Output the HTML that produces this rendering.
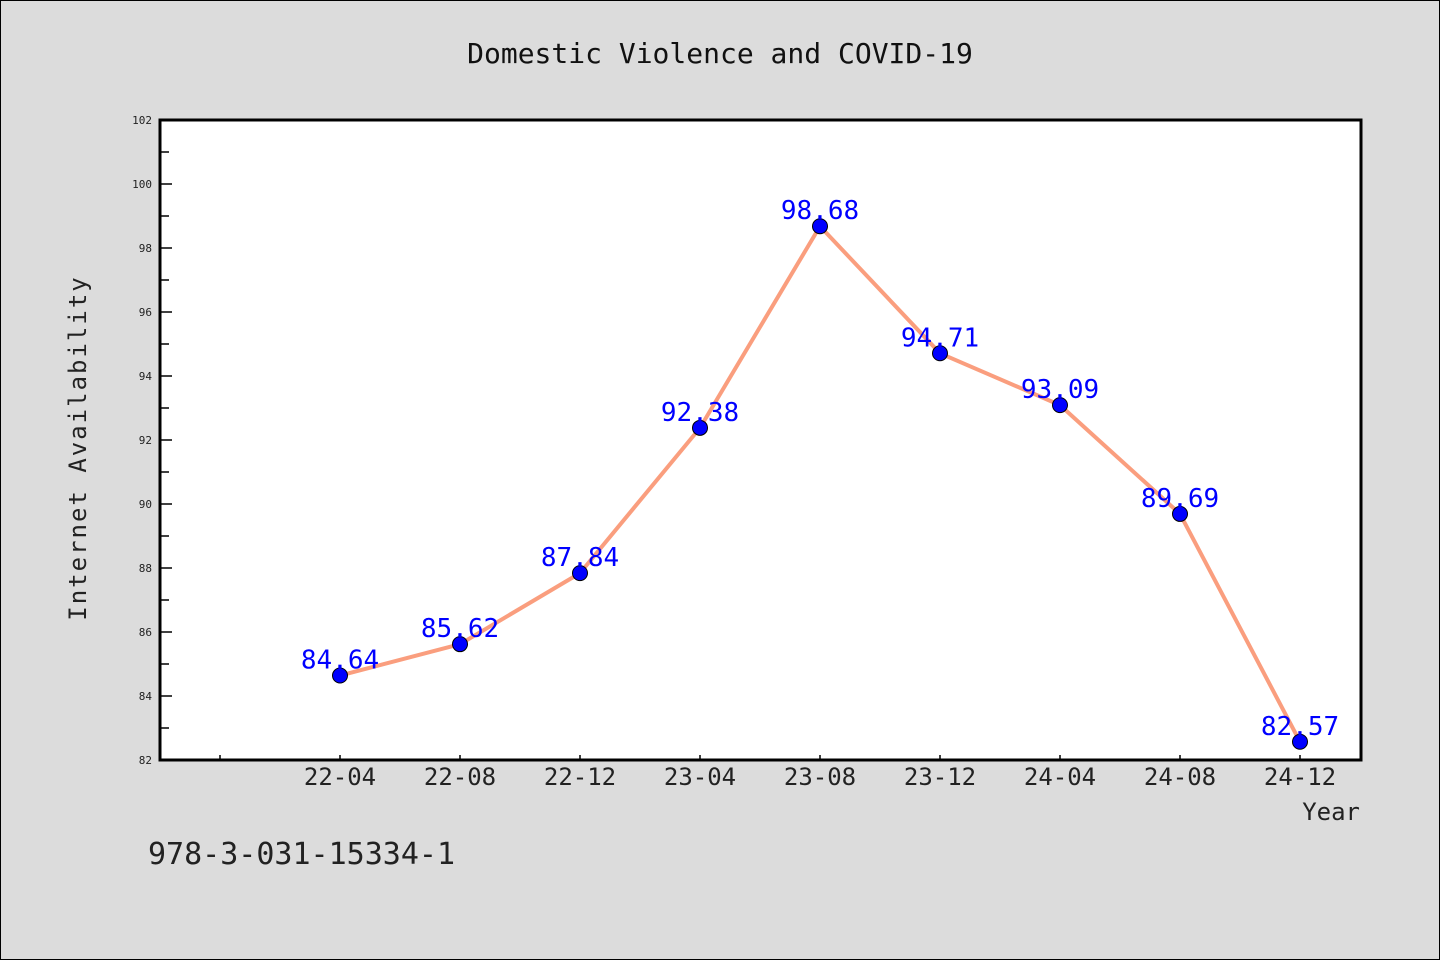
<!DOCTYPE html>
<html><head><meta charset="utf-8"><style>
html,body{margin:0;padding:0;background:#dcdcdc;}
svg{display:block;font-family:"DejaVu Sans Mono","Liberation Mono",monospace;}
</style></head><body>
<svg id="chart" width="1440" height="960" viewBox="0 0 1440 960" xmlns="http://www.w3.org/2000/svg">
<rect x="0.5" y="0.5" width="1439" height="959" fill="#dcdcdc" stroke="#000"/>
<text x="720" y="63" text-anchor="middle" font-size="28" fill="#111">Domestic Violence and COVID-19</text>
<rect x="160" y="120" width="1201" height="640" fill="#fff"/>
<g id="axes"></g>
<g id="series"></g>
<rect x="160" y="120" width="1201" height="640" fill="none" stroke="#000" stroke-width="3"/>
<text transform="translate(86,448) rotate(-90)" text-anchor="middle" font-size="24" fill="#222" letter-spacing="2">Internet Availability</text>
<text x="1360" y="820" text-anchor="end" font-size="24" fill="#222">Year</text>
<text x="148" y="864" font-size="30" fill="#222">978-3-031-15334-1</text>
</svg>
<script>
const categories = ["22-04","22-08","22-12","23-04","23-08","23-12","24-04","24-08","24-12"];
const values = [84.64,85.62,87.84,92.38,98.68,94.71,93.09,89.69,82.57];
const valueLabels = ["84.64","85.62","87.84","92.38","98.68","94.71","93.09","89.69","82.57"];
const yTicks = [82,84,86,88,90,92,94,96,98,100,102];
const yMin = 82, yMax = 102;
const NS = "http://www.w3.org/2000/svg";
function yS(v){return 760 - (v - yMin) / (yMax - yMin) * 640;}
function xS(i){return 340 + 120 * i;}
function mk(tag, attrs, parent){const e=document.createElementNS(NS,tag);for(const k in attrs)e.setAttribute(k,attrs[k]);parent.appendChild(e);return e;}
const axes = document.getElementById('axes');
const series = document.getElementById('series');
yTicks.forEach((t, idx) => {
  const y = yS(t);
  const tk = mk('line',{x1:160,x2:172,y1:y,y2:y,stroke:'#000','stroke-width':1.5},axes);
  
  
  const lb = mk('text',{x:152,y:y+4,'text-anchor':'end','font-size':11,fill:'#222'},axes);
  lb.textContent = t;
  
  
  if (idx < yTicks.length - 1) {
    const ym = yS(t + 1);
    const mt = mk('line',{x1:160,x2:169,y1:ym,y2:ym,stroke:'#000','stroke-width':1.5},axes);
    
    
  }
});
const xt0 = mk('line',{x1:xS(-1),x2:xS(-1),y1:760,y2:755,stroke:'#000','stroke-width':1.5},axes);


categories.forEach((c, i) => {
  const x = xS(i);
  const tk = mk('line',{x1:x,x2:x,y1:760,y2:755,stroke:'#000','stroke-width':1.5},axes);
  
  
  const lb = mk('text',{x:x,y:785,'text-anchor':'middle','font-size':24,fill:'#222'},axes);
  lb.textContent = c;
  
  
});
const pts = values.map((v, i) => xS(i) + ',' + yS(v)).join(' ');
const line = mk('polyline',{points:pts,fill:'none',stroke:'#fa9e7e','stroke-width':4,'stroke-linejoin':'round'},series);


values.forEach((v, i) => {
  const c = mk('circle',{cx:xS(i),cy:yS(v),r:7.5,fill:'#0000ff',stroke:'#000','stroke-width':1},series);
  
  
  const t = mk('text',{x:xS(i),y:yS(v)-7,'text-anchor':'middle','font-size':26,fill:'#0000ff'},series);
  t.textContent = valueLabels[i];
  
  
});
</script>
</body></html>
